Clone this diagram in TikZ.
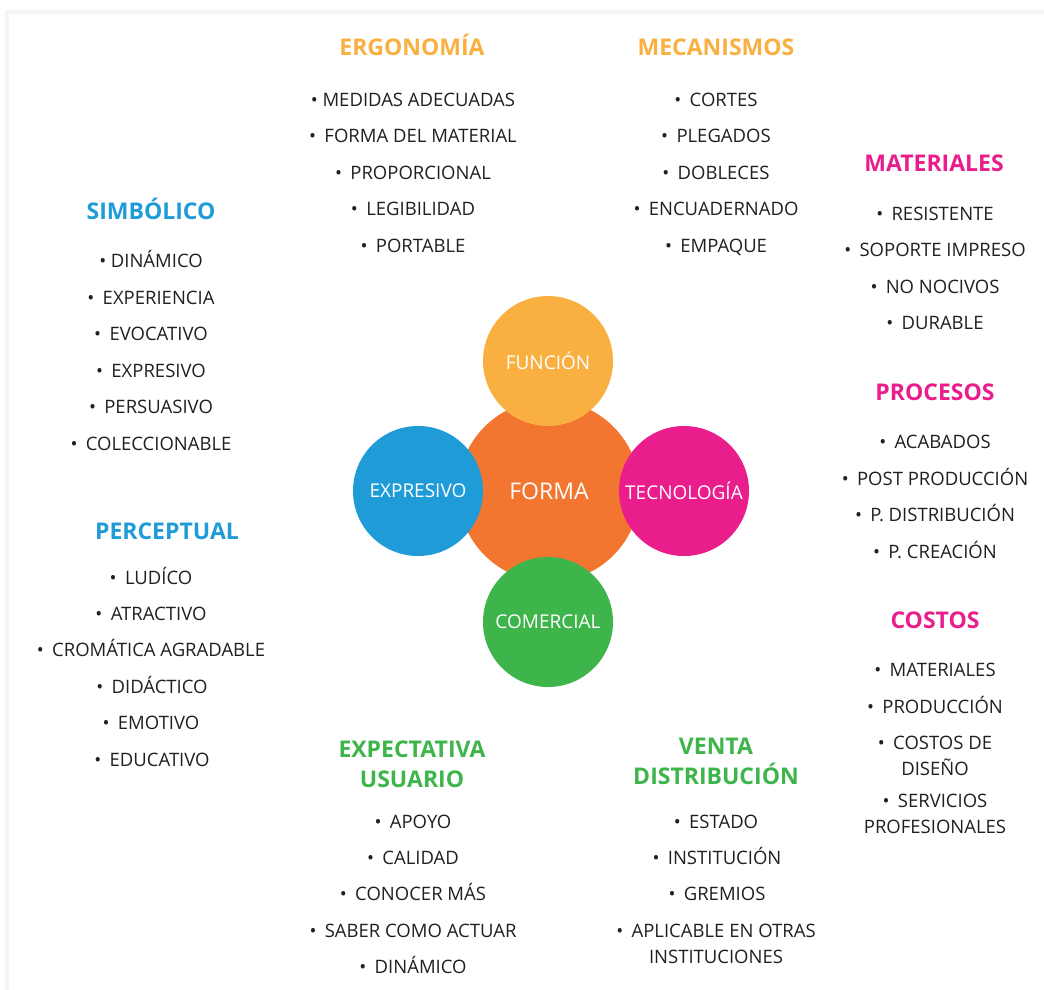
\documentclass[tikz,border=0pt]{standalone}
\usepackage{fontspec}
\setmainfont{Open Sans}
\definecolor{cyel}{HTML}{F9B041}
\definecolor{corg}{HTML}{F27530}
\definecolor{cblu}{HTML}{1F9CD8}
\definecolor{cmag}{HTML}{E91E8C}
\definecolor{cgrn}{HTML}{3DB54A}
\definecolor{ink}{HTML}{231F20}
\begin{document}
\begin{tikzpicture}[x=1pt,y=-1pt,
  item/.style={anchor=base, font=\fontsize{18.5}{25.5}\selectfont, text=ink, inner sep=0pt, align=center},
  head/.style={anchor=base, font=\fontsize{23}{30}\selectfont\bfseries, inner sep=0pt, align=center},
  circ/.style={circle, minimum size=130pt, inner sep=0pt, text=white, font=\fontsize{19}{22}\selectfont}]
\useasboundingbox (0,0) rectangle (1044,990);
\fill[black!4] (5,10) rectangle (1044,990);
\fill[white] (9,14) rectangle (1044,990);
% central circles
\node[circ, fill=corg, minimum size=182pt, font=\fontsize{23}{26}\selectfont] (forma) at (549,491) {FORMA};
\node[circ, fill=cyel] (funcion) at (548,361) {FUNCIÓN};
\node[circ, fill=cblu] (expresivo) at (418,491) {EXPRESIVO};
\node[circ, fill=cmag] (tecno) at (684,491) {TECNOLOGÍA};
\node[circ, fill=cgrn] (comercial) at (548,622) {COMERCIAL};
% ERGONOMIA
\node[head, text=cyel] (ergo) at (412,56) {ERGONOMÍA};
\node[item] (ergo1) at (413,106.5) {•\hspace{0.25em}MEDIDAS ADECUADAS};
\node[item] (ergo2) at (413,142.5) {•\hspace{0.45em}FORMA DEL MATERIAL};
\node[item] (ergo3) at (413,179.5) {•\hspace{0.45em}PROPORCIONAL};
\node[item] (ergo4) at (413,215.5) {•\hspace{0.45em}LEGIBILIDAD};
\node[item] (ergo5) at (413,252.5) {•\hspace{0.45em}PORTABLE};
% MECANISMOS
\node[head, text=cyel] (meca) at (716,56) {MECANISMOS};
\node[item] (meca1) at (716,106.5) {•\hspace{0.45em}CORTES};
\node[item] (meca2) at (716,142.5) {•\hspace{0.45em}PLEGADOS};
\node[item] (meca3) at (716,179.5) {•\hspace{0.45em}DOBLECES};
\node[item] (meca4) at (716,215.5) {•\hspace{0.45em}ENCUADERNADO};
\node[item] (meca5) at (716,252.5) {•\hspace{0.45em}EMPAQUE};
% MATERIALES
\node[head, text=cmag] (mate) at (934,171) {MATERIALES};
\node[item] (mate1) at (935,220.5) {•\hspace{0.45em}RESISTENTE};
\node[item] (mate2) at (935,256.5) {•\hspace{0.45em}SOPORTE IMPRESO};
\node[item] (mate3) at (935,293.5) {•\hspace{0.45em}NO NOCIVOS};
\node[item] (mate4) at (935,329.5) {•\hspace{0.45em}DURABLE};
% PROCESOS
\node[head, text=cmag] (proc) at (935,400) {PROCESOS};
\node[item] (proc1) at (935,448.5) {•\hspace{0.45em}ACABADOS};
\node[item] (proc2) at (935,485.5) {•\hspace{0.45em}POST PRODUCCIÓN};
\node[item] (proc3) at (935,521.5) {•\hspace{0.45em}P. DISTRIBUCIÓN};
\node[item] (proc4) at (935,558.5) {•\hspace{0.45em}P. CREACIÓN};
% COSTOS
\node[head, text=cmag] (cost) at (935,628) {COSTOS};
\node[item] (cost1) at (935,676.5) {•\hspace{0.45em}MATERIALES};
\node[item] (cost2) at (935,713.5) {•\hspace{0.45em}PRODUCCIÓN};
\node[item] (cost3) at (935,775) {•\hspace{0.45em}COSTOS DE\\DISEÑO};
\node[item] (cost4) at (935,833) {•\hspace{0.45em}SERVICIOS\\PROFESIONALES};
% SIMBOLICO
\node[head, text=cblu] (simb) at (151,219) {SIMBÓLICO};
\node[item] (simb1) at (151,267.5) {•\hspace{0.25em}DINÁMICO};
\node[item] (simb2) at (151,304.5) {•\hspace{0.45em}EXPERIENCIA};
\node[item] (simb3) at (151,340.5) {•\hspace{0.45em}EVOCATIVO};
\node[item] (simb4) at (151,377.5) {•\hspace{0.45em}EXPRESIVO};
\node[item] (simb5) at (151,413.5) {•\hspace{0.45em}PERSUASIVO};
\node[item] (simb6) at (151,450.5) {•\hspace{0.45em}COLECCIONABLE};
% PERCEPTUAL
\node[head, text=cblu] (perc) at (167,539) {PERCEPTUAL};
\node[item] (perc1) at (151,584.5) {•\hspace{0.45em}LUDÍCO};
\node[item] (perc2) at (151,620.5) {•\hspace{0.45em}ATRACTIVO};
\node[item] (perc3) at (151,656.5) {•\hspace{0.45em}CROMÁTICA AGRADABLE};
\node[item] (perc4) at (152,693.5) {•\hspace{0.45em}DIDÁCTICO};
\node[item] (perc5) at (151,729.5) {•\hspace{0.45em}EMOTIVO};
\node[item] (perc6) at (152,766.5) {•\hspace{0.45em}EDUCATIVO};
% EXPECTATIVA USUARIO
\node[head, text=cgrn] (expe) at (412,787) {EXPECTATIVA\\USUARIO};
\node[item] (expe1) at (413,828.5) {•\hspace{0.45em}APOYO};
\node[item] (expe2) at (413,864.5) {•\hspace{0.45em}CALIDAD};
\node[item] (expe3) at (413,900.5) {•\hspace{0.45em}CONOCER MÁS};
\node[item] (expe4) at (413,937.5) {•\hspace{0.45em}SABER COMO ACTUAR};
\node[item] (expe5) at (413,973.5) {•\hspace{0.45em}DINÁMICO};
% VENTA DISTRIBUCION
\node[head, text=cgrn] (vent) at (716,784) {VENTA\\DISTRIBUCIÓN};
\node[item] (vent1) at (716,828.5) {•\hspace{0.45em}ESTADO};
\node[item] (vent2) at (717,864.5) {•\hspace{0.45em}INSTITUCIÓN};
\node[item] (vent3) at (717,900.5) {•\hspace{0.45em}GREMIOS};
\node[item] (vent4) at (716,963) {•\hspace{0.45em}APLICABLE EN OTRAS\\INSTITUCIONES};
\end{tikzpicture}
\end{document}
